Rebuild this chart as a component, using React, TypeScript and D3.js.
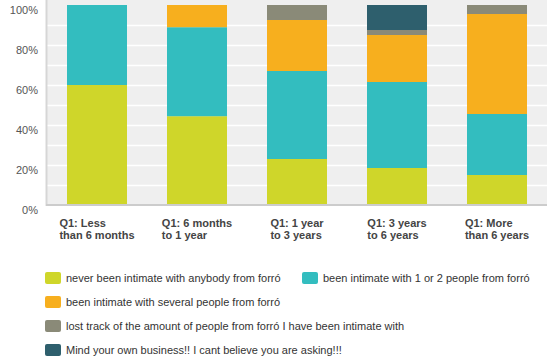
import React from "react";
import * as d3 from "d3";

const categories = [
  ["Q1: Less", "than 6 months"],
  ["Q1: 6 months", "to 1 year"],
  ["Q1: 1 year", "to 3 years"],
  ["Q1: 3 years", "to 6 years"],
  ["Q1: More", "than 6 years"],
];
const seriesNames = [
  "never been intimate with anybody from forró",
  "been intimate with 1 or 2 people from forró",
  "been intimate with several people from forró",
  "lost track of the amount of people from forró I have been intimate with",
  "Mind your own business!! I cant believe you are asking!!!",
];
const seriesColors = ["#CFD62A", "#33BDBF", "#F7AF1E", "#8A8A78", "#2E5F6D"];
const neverValues = [60, 44.4, 23, 18.5, 15];
const oneTwoValues = [40, 44.5, 44, 43, 30.5];
const severalValues = [0, 11.1, 25.5, 23.5, 50];
const lostValues = [0, 0, 7.5, 2.5, 4.5];
const mindValues = [0, 0, 0, 12.5, 0];
const yTicks = [0, 20, 40, 60, 80, 100];
const gridTicks = [10, 20, 30, 40, 50, 60, 70, 80, 90];

const seriesValues = [neverValues, oneTwoValues, severalValues, lostValues, mindValues];

const font = "'Liberation Sans', Arial, sans-serif";

function measure(text: string, spec: string): number {
  const c = document.createElement("canvas").getContext("2d");
  if (!c) return text.length * 6;
  c.font = spec;
  return c.measureText(text).width;
}

export default function App() {
  const W = 559, H = 364;
  const left = 47, right = 547, top = 5, bottom = 205;

  const x = d3.scaleBand<number>()
    .domain(categories.map((_, i) => i))
    .range([left, right])
    .paddingInner(0.4)
    .paddingOuter(0.2);
  const y = d3.scaleLinear().domain([0, 100]).range([bottom, top]);

  const rows = categories.map((_, i) => {
    const r: any = { i };
    seriesValues.forEach((s, k) => (r["s" + k] = s[i]));
    return r;
  });
  const stack = d3.stack<any>().keys(seriesValues.map((_, k) => "s" + k));
  const stacked = stack(rows);

  const legendItems = [
    { k: 0, x: 45, y: 272 },
    { k: 1, x: 302, y: 272 },
    { k: 2, x: 45, y: 296 },
    { k: 3, x: 45, y: 320 },
    { k: 4, x: 45, y: 344 },
  ];

  return (
    <svg width={W} height={H} style={{ position: "absolute", left: 0, top: 0, background: "#fff" }}>
      <rect x={left} y={0} width={right - left} height={bottom} fill="#EFEFEF" />
      {gridTicks.map((t) => (
        <line key={t} x1={left} x2={right} y1={y(t) + 0.5} y2={y(t) + 0.5} stroke="#fff" strokeWidth={1.5} />
      ))}
      {stacked.map((layer, k) =>
        layer.map((d, i) =>
          d[1] - d[0] > 0 ? (
            <rect
              key={k + "-" + i}
              x={x(i)}
              width={x.bandwidth()}
              y={y(d[1])}
              height={y(d[0]) - y(d[1])}
              fill={seriesColors[k]}
            />
          ) : null
        )
      )}
      <line x1={left - 0.5} x2={left - 0.5} y1={0} y2={bottom + 1} stroke="#D6D6D6" strokeWidth={2} />
      <line x1={left - 1} x2={right} y1={bottom} y2={bottom} stroke="#CCCCCC" strokeWidth={2} />
      {yTicks.map((t) => (
        <text key={t} x={38} y={y(t) + 8.5} textAnchor="end" fontFamily={font} fontSize={11} fill="#555">
          {t}%
        </text>
      ))}
      {categories.map((lines, i) => {
        const cx = (x(i) as number) + x.bandwidth() / 2;
        const w = Math.max(...lines.map((l) => measure(l, "bold 11px 'Liberation Sans', Arial, sans-serif")));
        return (
          <text key={i} fontFamily={font} fontSize={11} fontWeight="bold" fill="#444">
            {lines.map((l, j) => (
              <tspan key={j} x={cx - w / 2} y={227 + j * 12}>{l}</tspan>
            ))}
          </text>
        );
      })}
      {legendItems.map((it) => (
        <g key={it.k}>
          <rect x={it.x} y={it.y} width={16} height={12} rx={2} fill={seriesColors[it.k]} />
          <text x={it.x + 21} y={it.y + 10} fontFamily={font} fontSize={11} fill="#333">
            {seriesNames[it.k]}
          </text>
        </g>
      ))}
    </svg>
  );
}
